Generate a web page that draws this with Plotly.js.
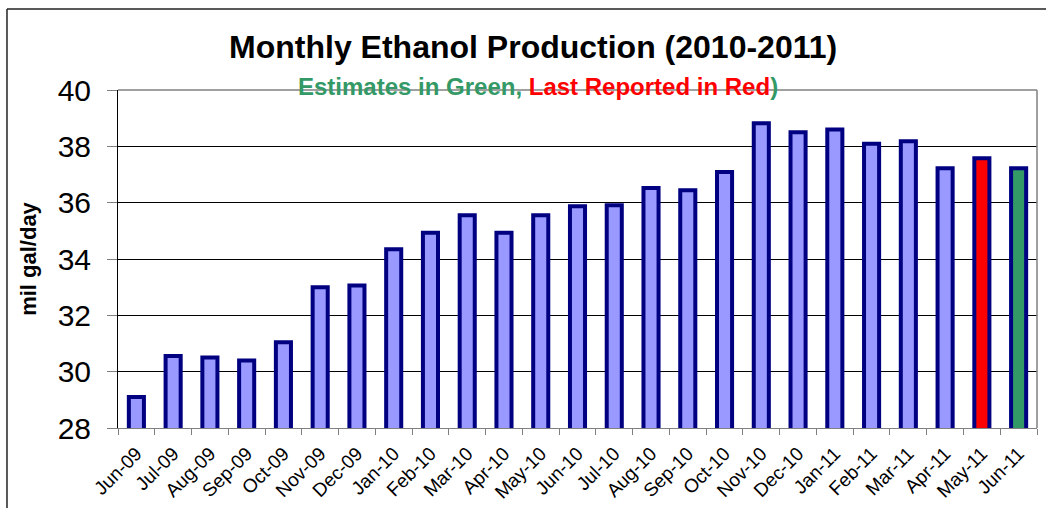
<!DOCTYPE html>
<html>
<head>
<meta charset="utf-8">
<script src="https://cdn.plot.ly/plotly-3.0.1.min.js"></script>
<style>
html,body{margin:0;padding:0;background:#fff;}
#chart{width:1046px;height:508px;}
</style>
</head>
<body>
<div id="chart"></div>
<script>
const months = ["Jun-09","Jul-09","Aug-09","Sep-09","Oct-09","Nov-09","Dec-09","Jan-10","Feb-10","Mar-10","Apr-10","May-10","Jun-10","Jul-10","Aug-10","Sep-10","Oct-10","Nov-10","Dec-10","Jan-11","Feb-11","Mar-11","Apr-11","May-11","Jun-11"];
const production = [29.10,30.56,30.50,30.40,31.04,33.00,33.06,34.35,34.93,35.55,34.93,35.55,35.87,35.91,36.52,36.44,37.09,38.82,38.50,38.60,38.09,38.18,37.22,37.58,37.22];
const status = ["r","r","r","r","r","r","r","r","r","r","r","r","r","r","r","r","r","r","r","r","r","r","r","last","est"];
const statusColors = {r:"#9999FF", last:"#FF0000", est:"#339966"};

const FONT = "Liberation Sans, Arial, sans-serif";

const trace = {
  type: "bar",
  x: months,
  y: production,
  marker: {
    color: status.map(s => statusColors[s]),
    line: {color: "#000080", width: 4}
  },
  hoverinfo: "x+y"
};

const layout = {
  width: 1046, height: 508,
  margin: {l: 118, r: 9.3, t: 90, b: 80},
  paper_bgcolor: "#ffffff",
  plot_bgcolor: "#ffffff",
  bargap: 0.59,
  showlegend: false,
  font: {family: FONT, color: "#000"},
  title: {
    text: "<b>Monthly Ethanol Production (2010-2011)</b>",
    font: {family: FONT, size: 32, color: "#000"},
    x: (533 - 118) / (1046 - 118 - 9.3), xref: "paper",
    y: 0.907, yref: "container",
    xanchor: "center", yanchor: "middle"
  },
  xaxis: {
    type: "category",
    tickangle: -45,
    tickfont: {family: FONT, size: 19, color: "#000"},
    ticks: "outside", ticklen: 6, tickcolor: "#808080", tickwidth: 1,
    tickson: "boundaries",
    ticklabelstandoff: 6,
    showline: true, linecolor: "#808080", linewidth: 1,
    showgrid: false, mirror: false,
    range: [-0.5, 24.5],
    fixedrange: true
  },
  yaxis: {
    range: [28, 40],
    dtick: 2, tick0: 28,
    tickfont: {family: FONT, size: 30, color: "#000"},
    ticks: "outside", ticklen: 10, tickcolor: "#808080", tickwidth: 1,
    ticklabelstandoff: 10,
    showline: true, linecolor: "#000", linewidth: 1,
    showgrid: true, gridcolor: "#000", gridwidth: 1,
    zeroline: false,
    title: {text: "<b>mil gal/day</b>", font: {family: FONT, size: 22, color: "#000"}, standoff: 14},
    fixedrange: true
  },
  shapes: [
    {type: "line", xref: "paper", yref: "paper", x0: 0, x1: 1, y0: 1, y1: 1, line: {color: "#808080", width: 1.5}},
    {type: "line", xref: "paper", yref: "paper", x0: 1, x1: 1, y0: 0, y1: 1, line: {color: "#808080", width: 1.5}},
    {type: "line", xref: "paper", yref: "paper", x0: -0.1208, x1: -0.1208, y0: -0.3, y1: 1.2396, line: {color: "#222", width: 1.5}},
    {type: "line", xref: "paper", yref: "paper", x0: -0.1208, x1: 1.05, y0: 1.2396, y1: 1.2396, line: {color: "#222", width: 1.5}}
  ],
  annotations: [
    {
      xref: "paper", yref: "paper",
      x: 0.4566, y: 1.0118,
      xanchor: "center", yanchor: "middle",
      showarrow: false,
      text: "<b><span style='color:#339966'>Estimates in Green, </span><span style='color:#FF0000'>Last Reported in Red</span><span style='color:#339966'>)</span></b>",
      font: {family: FONT, size: 24}
    }
  ]
};

Plotly.newPlot("chart", [trace], layout, {displayModeBar: false, staticPlot: true});
</script>
</body>
</html>
